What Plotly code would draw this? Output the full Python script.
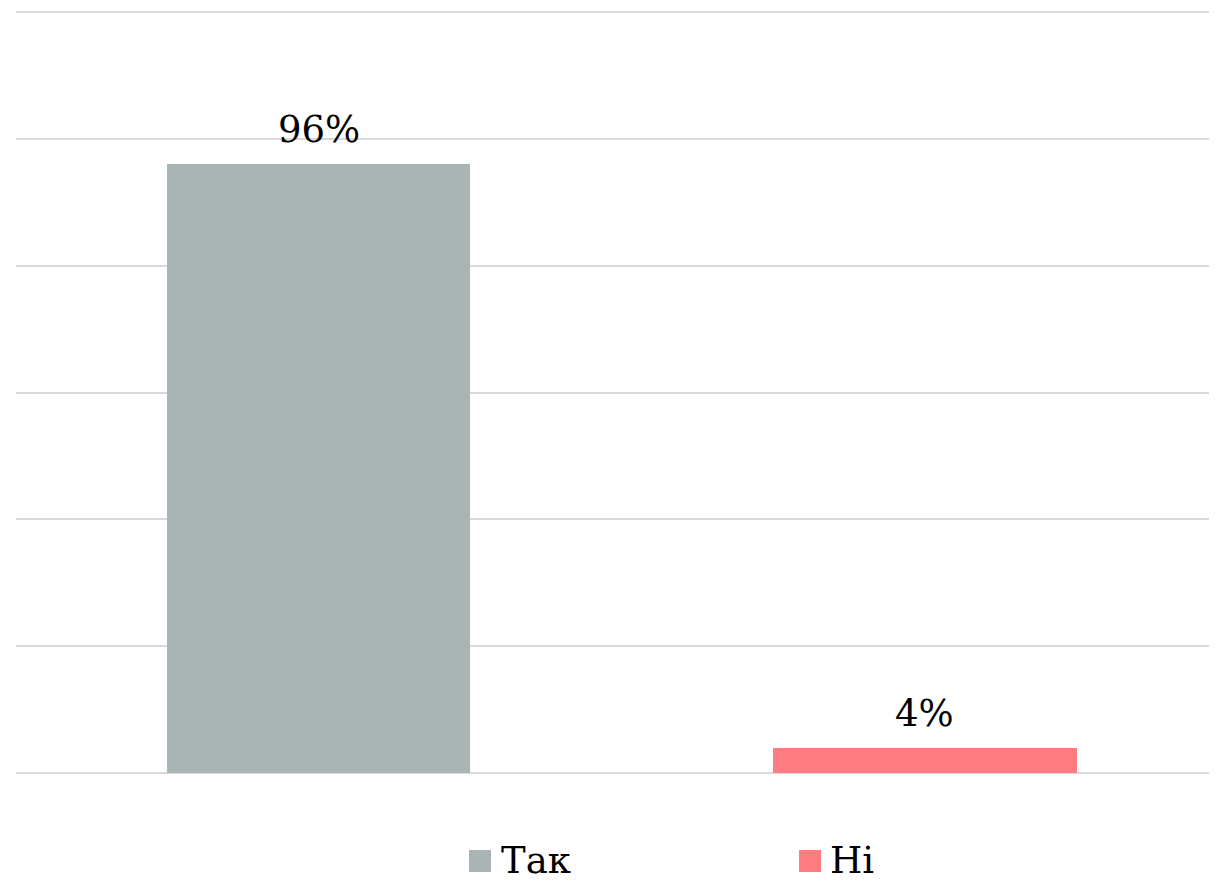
import plotly.graph_objects as go

categories = ["Так", "Ні"]
values = [0.96, 0.04]
labels = ["96%", "4%"]
colors = ["#a9b4b5", "#ff7c80"]

FONT = "DejaVu Serif"
FS = 37

W, H = 1209, 872          # page has an 8px body margin
L, T, B = 8, 2, 107
PW, PH = W - L, H - T - B


def px(fx):
    return (fx - L) / PW


def py(fy):
    return (H - B - fy) / PH


fig = go.Figure()
for cat, val, lab, col in zip(categories, values, labels, colors):
    fig.add_trace(go.Bar(
        x=[cat], y=[val], name=cat, width=0.5,
        marker=dict(color=col, line=dict(width=0)),
        showlegend=False, hoverinfo="x+y",
    ))
    fig.add_annotation(x=cat, y=val, text=lab, showarrow=False,
                       xanchor="center", yanchor="bottom", yshift=11,
                       font=dict(family=FONT, size=FS, color="#000000"))

# legend drawn below the plot (figure-pixel positions)
legend_sq_x = [461, 791]
legend_tx_x = [491, 820]
for cat, col, sx, tx in zip(categories, colors, legend_sq_x, legend_tx_x):
    fig.add_shape(type="rect", xref="paper", yref="paper",
                  x0=px(sx), x1=px(sx + 22), y0=py(864), y1=py(842),
                  fillcolor=col, line=dict(width=0))
    fig.add_annotation(text=cat, xref="paper", yref="paper",
                       x=px(tx), y=py(852),
                       xanchor="left", yanchor="middle", showarrow=False,
                       font=dict(family=FONT, size=FS, color="#000000"))

fig.update_layout(
    width=W, height=H,
    margin=dict(l=L, r=0, t=T, b=B),
    paper_bgcolor="white", plot_bgcolor="white",
    barmode="overlay", bargap=0,
    showlegend=False,
    font=dict(family=FONT, size=FS, color="#000000"),
    xaxis=dict(range=[-0.4988, 1.4815], showticklabels=False, showgrid=False,
               zeroline=False, showline=False, ticks=""),
    yaxis=dict(range=[0, 1.2032], dtick=0.2, showticklabels=False, showgrid=True,
               gridcolor="#d9d9d9", gridwidth=2, zeroline=True,
               zerolinecolor="#d9d9d9", zerolinewidth=2, showline=False, ticks=""),
)

fig.write_html("out.html")
